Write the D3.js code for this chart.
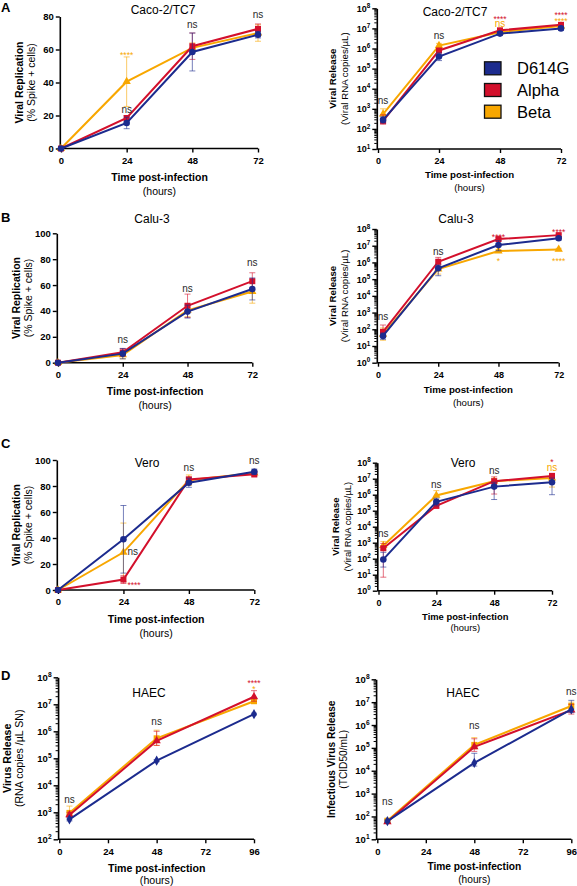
<!DOCTYPE html>
<html><head><meta charset="utf-8">
<script src="https://cdn.jsdelivr.net/npm/d3@7"></script>
<style>
body{margin:0;background:#fff;}
svg{display:block;font-family:"Liberation Sans",Arial,sans-serif;}
</style></head><body>
<svg id="c" width="577" height="886"></svg>
<script>
// ---------------- DATA ----------------
const seriesNames = ["D614G", "Alpha", "Beta"];
const timesLin = [0, 24, 48, 72];
const timesLog = [2, 24, 48, 72];
const timesHAEC = [5, 48, 96];
const xTicks72 = [0, 24, 48, 72];
const xTicks96 = [0, 24, 48, 72, 96];
const linTicks80 = [0, 20, 40, 60, 80];
const linTicks100 = [0, 20, 40, 60, 80, 100];

// A: Caco-2/TC7 replication (% Spike+ cells), mean and SD
const cacoRepD614G = [0, 15.5, 58.5, 69], cacoRepD614GErr = [0, 3.5, 11.5, 2];
const cacoRepAlpha = [0, 18.5, 62, 72.5], cacoRepAlphaErr = [0, 1.5, 8, 3];
const cacoRepBeta  = [0, 40.5, 61, 70],   cacoRepBetaErr  = [0, 15, 3, 5];
// A: Caco-2/TC7 release (RNA copies/µL)
const cacoRelD614G = [280, 4e5, 5.5e6, 1e7],   cacoRelD614GLo = [200, 2.5e5, 4.5e6, 8e6],   cacoRelD614GHi = [400, 6e5, 7e6, 1.2e7];
const cacoRelAlpha = [250, 8e5, 8e6, 1.5e7],   cacoRelAlphaLo = [170, 6e5, 6.5e6, 1.3e7],   cacoRelAlphaHi = [500, 1e6, 1e7, 1.8e7];
const cacoRelBeta  = [550, 1.4e6, 6.5e6, 1.3e7], cacoRelBetaLo = [250, 1e6, 5e6, 1.1e7],    cacoRelBetaHi  = [1000, 1.8e6, 8e6, 1.5e7];

// B: Calu-3
const caluRepD614G = [0, 7, 39.5, 57], caluRepD614GErr = [0, 4, 5, 8.5];
const caluRepAlpha = [0, 8, 44, 63],   caluRepAlphaErr = [0, 3, 9, 6.5];
const caluRepBeta  = [0, 6, 40.5, 55], caluRepBetaErr  = [0, 3, 5, 9];
const caluRelD614G = [40, 4.5e5, 1.1e7, 2.8e7], caluRelD614GLo = [25, 1.6e5, 5e6, 2.2e7], caluRelD614GHi = [60, 7e5, 2e7, 3.4e7];
const caluRelAlpha = [70, 1.1e6, 2.5e7, 4.3e7], caluRelAlphaLo = [40, 7e5, 2e7, 3.5e7],   caluRelAlphaHi = [180, 2e6, 3e7, 5e7];
const caluRelBeta  = [50, 4e5, 4.8e6, 6e6],     caluRelBetaLo  = [22, 2e5, 4e6, 5e6],     caluRelBetaHi  = [120, 6e5, 6e6, 7e6];

// C: Vero
const veroRepD614G = [0, 39, 82.5, 91], veroRepD614GErr = [0, 26, 3.5, 2];
const veroRepAlpha = [0, 8, 85, 89],    veroRepAlphaErr = [0, 3, 2, 2];
const veroRepBeta  = [0, 29, 84.5, 90], veroRepBetaErr  = [0, 22.5, 4, 1.5];
const veroRelD614G = [90, 3.6e5, 3.2e6, 6e6],   veroRelD614GLo = [30, 2e5, 5e5, 1e6],     veroRelD614GHi = [250, 6e5, 6e6, 1.1e7];
const veroRelAlpha = [450, 2e5, 7e6, 1.5e7],    veroRelAlphaLo = [7, 1.5e5, 1.1e6, 1.1e7], veroRelAlphaHi = [900, 2.6e5, 1.3e7, 2e7];
const veroRelBeta  = [650, 9e5, 7e6, 1.1e7],    veroRelBetaLo  = [350, 5e5, 4e6, 3e6],    veroRelBetaHi  = [1200, 1.8e6, 1e7, 1.5e7];

// D: HAEC
const haecRnaD614G = [550, 8.2e4, 4.3e6], haecRnaD614GLo = [480, 7.5e4, 4e6],  haecRnaD614GHi = [620, 9e4, 4.7e6];
const haecRnaAlpha = [800, 4.4e5, 1.9e7], haecRnaAlphaLo = [650, 3e5, 1.3e7],  haecRnaAlphaHi = [1000, 1e6, 3.2e7];
const haecRnaBeta  = [950, 5.5e5, 1.3e7], haecRnaBetaLo  = [700, 3e5, 1.1e7],  haecRnaBetaHi  = [1700, 1.1e6, 1.5e7];
const haecInfD614G = [62, 2.2e4, 4.8e6],  haecInfD614GLo = [55, 1.6e4, 3.5e6], haecInfD614GHi = [70, 5.8e4, 1.2e7];
const haecInfAlpha = [58, 1.1e5, 4.5e6],  haecInfAlphaLo = [50, 7e4, 3e6],     haecInfAlphaHi = [68, 2.5e5, 8e6];
const haecInfBeta  = [65, 1.35e5, 6.8e6], haecInfBetaLo  = [55, 9e4, 4.5e6],   haecInfBetaHi  = [75, 2.8e5, 1e7];

// Significance labels: [time, y (data units), text, series index (-1 = none), "r" = right of point]
const annCacoRep = [[24, 58, "****", 2], [24, 23.3, "ns", -1], [48, 74.4, "ns", -1], [72, 80.5, "ns", -1]];
const annCacoRel = [[2, 10**3.35, "ns", -1], [24, 10**6.59, "ns", -1], [48, 10**7.58, "****", 1], [48, 10**7.2, "ns", 2], [72, 10**7.76, "****", 1], [72, 10**7.45, "****", 2]];
const annCaluRep = [[24, 17.5, "ns", -1], [48, 57, "ns", -1], [72, 76.8, "ns", -1]];
const annCaluRel = [[2, 10**2.73, "ns", -1], [24, 10**6.58, "ns", -1], [48, 10**7.64, "****", 1], [48, 10**6.2, "*", 2], [72, 10**7.94, "****", 1], [72, 10**6.2, "****", 2]];
const annVeroRep = [[24, 28.7, "ns", -1, "r"], [24, 5.2, "****", 1, "r"], [48, 93.6, "ns", -1], [72, 98.7, "ns", -1]];
const annVeroRel = [[2, 10**3.54, "ns", -1], [24, 10**6.6, "ns", -1], [48, 10**7.44, "ns", -1], [72, 10**8.15, "*", 1], [72, 10**7.66, "ns", 2]];
const annHaecRna = [[5, 10**3.46, "ns", -1], [48, 10**6.32, "ns", -1], [96, 10**7.86, "****", 1], [96, 10**7.63, "*", 2]];
const annHaecInf = [[5, 10**2.6, "ns", -1], [48, 10**5.96, "ns", -1], [96, 10**7.41, "ns", -1]];

// ---------------- STYLE / LAYOUT ----------------
const colors = ["#1c2b8e", "#d3102c", "#f8a700"];
const markersABC = [d3.symbolCircle, d3.symbolSquare, d3.symbolTriangle];
const markersD = [d3.symbolDiamond, d3.symbolTriangle, d3.symbolSquare];
const symSizes = {circle: 34, square: 36, triangle: 30, diamond: 30};

function lin(vals, errs) { return {v: vals, lo: vals.map((d, i) => d - errs[i]), hi: vals.map((d, i) => d + errs[i])}; }
function lg(vals, lo, hi) { return {v: vals, lo: lo, hi: hi}; }

const panels = [
  {letter: "A", ly: 12, title: "Caco-2/TC7", tx: 163, ty: 10, log: false, times: timesLin, xTicks: xTicks72, xMax: 72,
   yDom: [0, 80], yTicks: linTicks80, px: [61, 258], py: [148.5, 16.5], tickFs: 9.5, labFs: 10.5, yl: [-41, -29], xl: [28.5, 42.5],
   ylab: ["Viral Replication", "(% Spike + cells)"], sym: markersABC,
   series: [lin(cacoRepD614G, cacoRepD614GErr), lin(cacoRepAlpha, cacoRepAlphaErr), lin(cacoRepBeta, cacoRepBetaErr)], ann: annCacoRep},
  {title: "Caco-2/TC7", tx: 455, ty: 11.7, log: true, times: timesLog, xTicks: xTicks72, xMax: 72,
   yDom: [10, 1e8], px: [378, 561], py: [149, 8.3], tickFs: 9, labFs: 9.7, yl: [-44, -32], xl: [25.5, 38.5],
   ylab: ["Viral Release", "(Viral RNA copies/µL)"], sym: markersABC, legend: true,
   series: [lg(cacoRelD614G, cacoRelD614GLo, cacoRelD614GHi), lg(cacoRelAlpha, cacoRelAlphaLo, cacoRelAlphaHi), lg(cacoRelBeta, cacoRelBetaLo, cacoRelBetaHi)], ann: annCacoRel},
  {letter: "B", ly: 222, title: "Calu-3", tx: 152, ty: 219, log: false, times: timesLin, xTicks: xTicks72, xMax: 72,
   yDom: [0, 100], yTicks: linTicks100, px: [58, 252.3], py: [362.7, 233.3], tickFs: 9.5, labFs: 10.5, yl: [-41, -29], xl: [28.3, 42.3],
   ylab: ["Viral Replication", "(% Spike + cells)"], sym: markersABC,
   series: [lin(caluRepD614G, caluRepD614GErr), lin(caluRepAlpha, caluRepAlphaErr), lin(caluRepBeta, caluRepBetaErr)], ann: annCaluRep},
  {title: "Calu-3", tx: 456, ty: 219, log: true, times: timesLog, xTicks: xTicks72, xMax: 72,
   yDom: [1, 1e8], px: [378, 558.7], py: [362.7, 229], tickFs: 9, labFs: 9.7, yl: [-44, -32], xl: [26.3, 39.6],
   ylab: ["Viral Release", "(Viral RNA copies/µL)"], sym: markersABC,
   series: [lg(caluRelD614G, caluRelD614GLo, caluRelD614GHi), lg(caluRelAlpha, caluRelAlphaLo, caluRelAlphaHi), lg(caluRelBeta, caluRelBetaLo, caluRelBetaHi)], ann: annCaluRel},
  {letter: "C", ly: 448, title: "Vero", tx: 147, ty: 463.3, log: false, times: timesLin, xTicks: xTicks72, xMax: 72,
   yDom: [0, 100], yTicks: linTicks100, px: [58, 254.3], py: [590, 460], tickFs: 9.5, labFs: 10.5, yl: [-41, -29], xl: [29, 43],
   ylab: ["Viral Replication", "(% Spike + cells)"], sym: markersABC,
   series: [lin(veroRepD614G, veroRepD614GErr), lin(veroRepAlpha, veroRepAlphaErr), lin(veroRepBeta, veroRepBetaErr)], ann: annVeroRep},
  {title: "Vero", tx: 463, ty: 462.7, log: true, times: timesLog, xTicks: xTicks72, xMax: 72,
   yDom: [1, 1e8], px: [378.5, 552], py: [590.7, 462.7], tickFs: 9, labFs: 9.4, yl: [-42.3, -30], xl: [25.3, 36.6],
   ylab: ["Viral Release", "(Viral RNA copies/µL)"], sym: markersABC,
   series: [lg(veroRelD614G, veroRelD614GLo, veroRelD614GHi), lg(veroRelAlpha, veroRelAlphaLo, veroRelAlphaHi), lg(veroRelBeta, veroRelBetaLo, veroRelBetaHi)], ann: annVeroRel},
  {letter: "D", ly: 680, title: "HAEC", tx: 149, ty: 693, log: true, times: timesHAEC, xTicks: xTicks96, xMax: 96,
   yDom: [100, 1e8], px: [59.3, 254], py: [839.3, 677.3], tickFs: 9.5, labFs: 10.6, yl: [-51.5, -39], xl: [28.4, 40.7],
   ylab: ["Virus Release", "(RNA copies /µL SN)"], sym: markersD,
   series: [lg(haecRnaD614G, haecRnaD614GLo, haecRnaD614GHi), lg(haecRnaAlpha, haecRnaAlphaLo, haecRnaAlphaHi), lg(haecRnaBeta, haecRnaBetaLo, haecRnaBetaHi)], ann: annHaecRna},
  {title: "HAEC", tx: 463, ty: 693.3, log: true, times: timesHAEC, xTicks: xTicks96, xMax: 96,
   yDom: [10, 1e8], px: [377.3, 571.3], py: [839.3, 679.3], tickFs: 9.5, labFs: 10.2, yl: [-45, -33], xl: [27.4, 40],
   ylab: ["Infectious Virus Release", "(TCID50/mL)"], sym: markersD,
   series: [lg(haecInfD614G, haecInfD614GLo, haecInfD614GHi), lg(haecInfAlpha, haecInfAlphaLo, haecInfAlphaHi), lg(haecInfBeta, haecInfBetaLo, haecInfBetaHi)], ann: annHaecInf}
];

const svg = d3.select("#c");

function symSize(s) {
  if (s === d3.symbolCircle) return symSizes.circle;
  if (s === d3.symbolSquare) return symSizes.square;
  if (s === d3.symbolTriangle) return symSizes.triangle;
  return symSizes.diamond;
}

function drawPanel(p) {
  const x = d3.scaleLinear().domain([0, p.xMax]).range(p.px);
  const y = (p.log ? d3.scaleLog() : d3.scaleLinear()).domain(p.yDom).range(p.py);
  const g = svg.append("g");
  const axX = p.px[0] - 1.2;
  const axY = p.py[0];

  // Y axis
  let yAxis;
  if (p.log) {
    const e0 = Math.round(Math.log10(p.yDom[0])), e1 = Math.round(Math.log10(p.yDom[1]));
    const major = d3.range(e0, e1 + 1).map(e => 10 ** e);
    const minor = [];
    for (let e = e0; e < e1; e++) for (let k = 2; k <= 9; k++) minor.push(k * 10 ** e);
    g.append("g").attr("transform", `translate(${axX},0)`)
      .call(d3.axisLeft(y).tickValues(minor).tickSize(2.5).tickSizeOuter(0).tickFormat(""))
      .call(s => s.select(".domain").remove())
      .call(s => s.selectAll("line").attr("stroke-width", 1));
    yAxis = g.append("g").attr("transform", `translate(${axX},0)`)
      .call(d3.axisLeft(y).tickValues(major).tickSize(4.5).tickSizeOuter(0).tickPadding(2));
    yAxis.selectAll(".tick text").each(function(d) {
      const t = d3.select(this); t.text("");
      t.append("tspan").text("10");
      t.append("tspan").attr("dy", -p.tickFs * 0.42).attr("font-size", p.tickFs * 0.7).text(Math.round(Math.log10(d)));
    });
  } else {
    yAxis = g.append("g").attr("transform", `translate(${axX},0)`)
      .call(d3.axisLeft(y).tickValues(p.yTicks).tickSize(4).tickSizeOuter(0).tickPadding(2));
  }
  yAxis.selectAll("text").attr("font-size", p.tickFs).attr("font-weight", "bold").attr("fill", "#000")
    .attr("font-family", "Liberation Sans, Arial, sans-serif");
  yAxis.select(".domain").attr("stroke-width", 1.6);
  yAxis.selectAll(".tick line").attr("stroke-width", 1.4);

  // X axis
  const xAxis = g.append("g").attr("transform", `translate(0,${axY})`)
    .call(d3.axisBottom(x).tickValues(p.xTicks).tickSize(4).tickSizeOuter(0).tickPadding(4.5));
  xAxis.select(".domain").attr("d", `M${axX},0H${p.px[1]}`).attr("stroke-width", 1.6);
  xAxis.selectAll(".tick line").attr("stroke-width", 1.4);
  xAxis.selectAll("text").attr("font-size", p.tickFs).attr("font-weight", "bold").attr("fill", "#000")
    .attr("font-family", "Liberation Sans, Arial, sans-serif");

  // Axis titles
  const xc = (p.px[0] + p.px[1]) / 2;
  g.append("text").attr("x", xc).attr("y", axY + p.xl[0]).attr("text-anchor", "middle").attr("dominant-baseline", "central")
    .attr("font-weight", "bold").attr("font-size", p.labFs).text("Time post-infection");
  g.append("text").attr("x", xc).attr("y", axY + p.xl[1]).attr("text-anchor", "middle").attr("dominant-baseline", "central")
    .attr("font-size", p.labFs).text("(hours)");
  const yc = (p.py[0] + p.py[1]) / 2;
  g.append("text").attr("transform", `translate(${axX + p.yl[0]},${yc}) rotate(-90)`).attr("text-anchor", "middle")
    .attr("dominant-baseline", "central").attr("font-weight", "bold").attr("font-size", p.labFs).text(p.ylab[0]);
  g.append("text").attr("transform", `translate(${axX + p.yl[1]},${yc}) rotate(-90)`).attr("text-anchor", "middle")
    .attr("dominant-baseline", "central").attr("font-size", p.labFs).text(p.ylab[1]);

  // Title
  g.append("text").attr("x", p.tx).attr("y", p.ty).attr("text-anchor", "middle").attr("dominant-baseline", "central")
    .attr("font-size", 12).text(p.title);
  if (p.letter) g.append("text").attr("x", 1).attr("y", p.ly).attr("font-weight", "bold").attr("font-size", 13).text(p.letter);

  // Series: draw Beta, Alpha, then D614G on top
  const line = d3.line().x(d => x(d[0])).y(d => y(d[1]));
  [2, 1, 0].forEach(si => {
    const s = p.series[si], c = colors[si];
    const pts = p.times.map((t, i) => [t, s.v[i], s.lo[i], s.hi[i]]);
    const eg = g.append("g").attr("stroke", c).attr("stroke-opacity", 0.6).attr("stroke-width", 1);
    pts.forEach(d => {
      if (d[3] - d[2] <= 0) return;
      const lo = Math.max(d[2], p.yDom[0]);
      eg.append("line").attr("x1", x(d[0])).attr("x2", x(d[0])).attr("y1", y(lo)).attr("y2", y(d[3]));
      eg.append("line").attr("x1", x(d[0]) - 3).attr("x2", x(d[0]) + 3).attr("y1", y(d[3])).attr("y2", y(d[3]));
      if (d[2] >= p.yDom[0]) eg.append("line").attr("x1", x(d[0]) - 3).attr("x2", x(d[0]) + 3).attr("y1", y(d[2])).attr("y2", y(d[2]));
    });
    g.append("path").datum(pts).attr("d", line).attr("fill", "none").attr("stroke", c).attr("stroke-width", 2);
    const sym = p.sym[si];
    g.selectAll(null).data(pts).enter().append("path")
      .attr("transform", d => `translate(${x(d[0])},${y(d[1])})`)
      .attr("d", d3.symbol().type(sym).size(symSize(sym)))
      .attr("fill", c);
  });

  // Significance annotations
  p.ann.forEach(a => {
    const isStar = a[2].indexOf("*") >= 0;
    const fs = isStar ? 8.5 : 10;
    const off = isStar ? fs * 0.6 : fs * 0.27;
    const right = a[4] === "r";
    g.append("text").attr("x", x(a[0]) + (right ? 4 : 0)).attr("y", y(a[1]) + off)
      .attr("text-anchor", right ? "start" : "middle").attr("font-size", fs)
      .attr("fill", a[3] < 0 ? "#2a2a2a" : colors[a[3]]).text(a[2]);
  });

  // Legend
  if (p.legend) {
    const lgd = g.append("g");
    seriesNames.forEach((n, i) => {
      const cy = 68.3 + i * 21.7;
      lgd.append("rect").attr("x", 484.5).attr("y", cy - 6.5).attr("width", 16.5).attr("height", 13)
        .attr("fill", colors[i]).attr("stroke", "#111").attr("stroke-width", 1.3);
      lgd.append("text").attr("x", 517).attr("y", cy).attr("dominant-baseline", "central").attr("font-size", 16.5).text(n);
    });
  }
}

panels.forEach(drawPanel);
</script>
</body></html>
